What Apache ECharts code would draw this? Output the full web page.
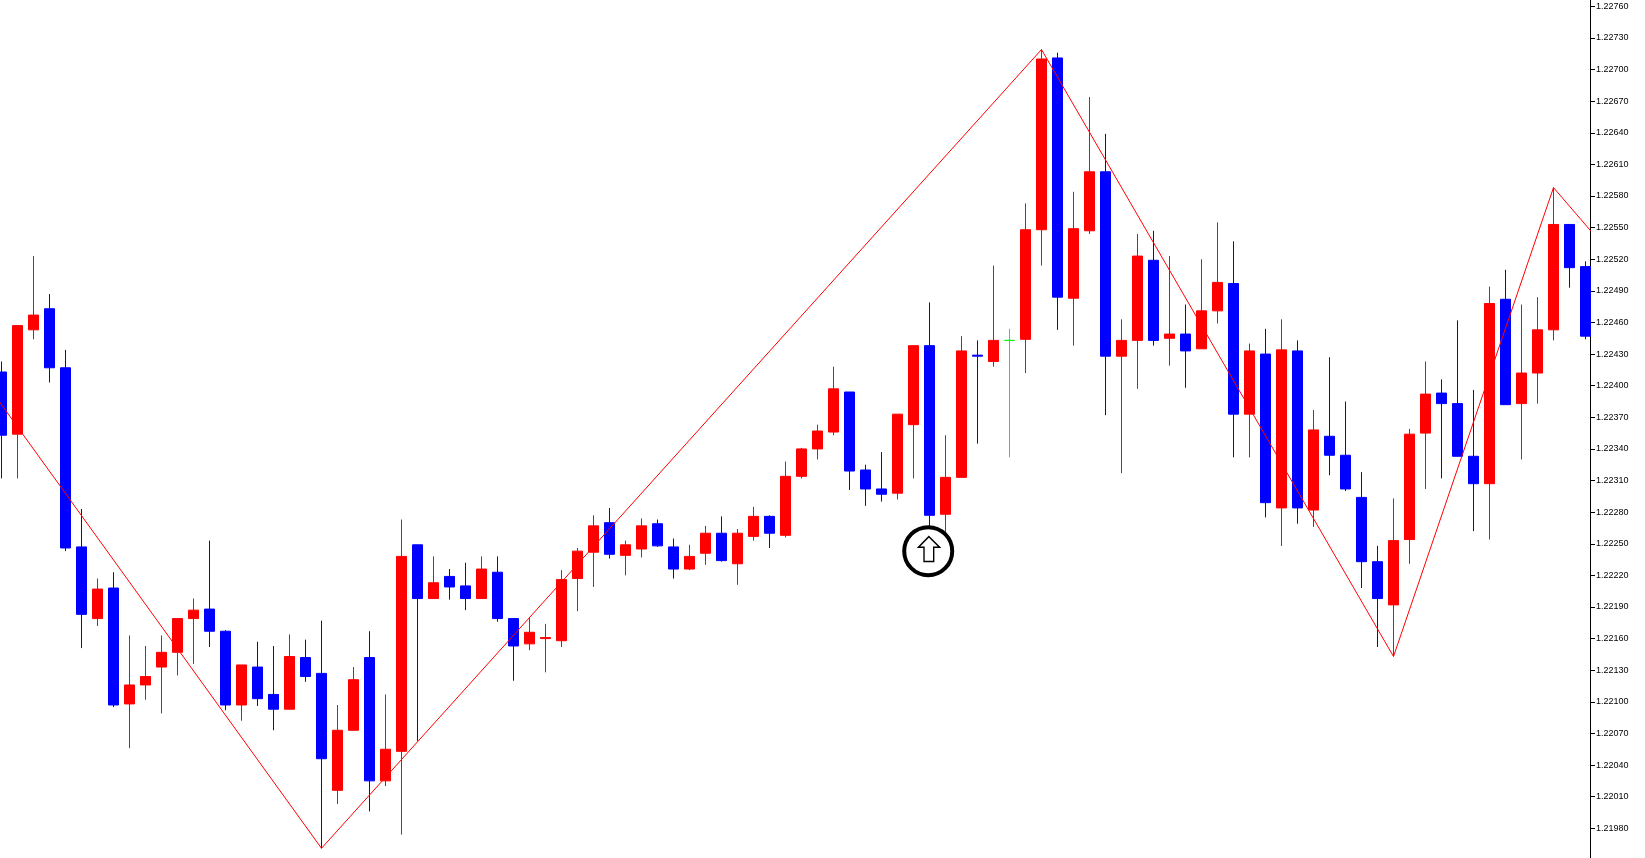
<!DOCTYPE html>
<html>
<head>
<meta charset="utf-8">
<style>html,body{margin:0;padding:0;background:#fff}#c{width:1645px;height:858px}</style>
<script src="https://cdn.jsdelivr.net/npm/echarts@6/dist/echarts.min.js"></script>
</head>
<body>
<div id="c"></div>
<script>
const opens = [122413,122354,122453,122473,122417,122247,122179,122208,122098,122116,122133,122147,122179,122188,122167,122097,122133,122107,122093,122142,122127,122016,122073,122142,122025,122053,122249,122198,122219,122210,122198,122223,122179,122155,122160,122158,122217,122242,122270,122239,122245,122269,122247,122226,122241,122260,122231,122257,122276,122258,122314,122340,122356,122394,122320,122302,122298,122363,122438,122278,122313,122429,122423,122443,122444,122548,122711,122483,122547,122603,122428,122443,122519,122445,122449,122435,122471,122497,122373,122430,122284,122433,122282,122352,122334,122294,122233,122192,122254,122355,122393,122383,122333,122307,122482,122383,122412,122453,122553,122513];
const closes = [122353,122457,122467,122417,122246,122183,122207,122097,122116,122124,122147,122179,122187,122167,122097,122135,122103,122093,122143,122124,122046,122073,122121,122025,122055,122238,122198,122213,122209,122198,122226,122179,122153,122166,122161,122216,122243,122267,122240,122249,122267,122248,122226,122238,122260,122234,122260,122276,122260,122314,122340,122357,122397,122319,122302,122297,122373,122438,122277,122313,122433,122428,122443,122443,122548,122710,122484,122549,122603,122428,122443,122523,122443,122449,122433,122471,122498,122373,122433,122289,122434,122284,122358,122334,122302,122233,122198,122253,122354,122392,122383,122333,122307,122478,122382,122412,122453,122553,122512,122447];
const lows = [122312,122312,122444,122403,122243,122151,122172,122095,122056,122102,122089,122125,122136,122152,122092,122082,122096,122073,122093,122119,121961,122003,122073,121996,122020,121974,122063,122198,122197,122187,122198,122176,122120,122149,122128,122152,122186,122209,122236,122220,122237,122247,122217,122225,122230,122233,122211,122253,122246,122256,122312,122330,122353,122301,122286,122290,122292,122312,122263,122260,122313,122345,122418,122332,122412,122514,122453,122438,122544,122372,122317,122397,122438,122419,122398,122435,122459,122332,122332,122275,122248,122269,122266,122315,122300,122208,122152,122143,122231,122302,122312,122333,122262,122254,122382,122330,122383,122443,122493,122444];
const highs = [122423,122457,122523,122487,122434,122283,122217,122223,122163,122153,122163,122179,122198,122253,122168,122135,122157,122153,122164,122159,122177,122097,122133,122167,122107,122273,122249,122238,122226,122232,122238,122238,122179,122180,122174,122225,122246,122277,122284,122253,122274,122273,122255,122249,122267,122276,122264,122285,122277,122328,122341,122363,122418,122394,122325,122337,122373,122438,122479,122353,122447,122443,122514,122454,122573,122719,122716,122584,122674,122639,122463,122544,122547,122523,122477,122520,122555,122537,122440,122454,122463,122443,122377,122427,122385,122318,122248,122293,122359,122423,122406,122462,122396,122494,122510,122477,122484,122588,122553,122518];
const zigzagIndex = [-1,20,65,87,97,100];
const zigzagPrice = [122403,121961,122719,122143,122588,122535];
const signalIndex = [57.92];
const signalPrice = [122243];
const arrowIndex = [57.97];
const arrowPrice = [122245];
const tickLabels = ['1.22760','1.22730','1.22700','1.22670','1.22640','1.22610','1.22580','1.22550','1.22520','1.22490','1.22460','1.22430','1.22400','1.22370','1.22340','1.22310','1.22280','1.22250','1.22220','1.22190','1.22160','1.22130','1.22100','1.22070','1.22040','1.22010','1.21980'];

const px = v => v / 100000;
const candles = opens.map((o, i) => [i, px(o), px(closes[i]), px(lows[i]), px(highs[i])]);
const chart = echarts.init(document.getElementById('c'), null, {renderer: 'canvas'});
chart.setOption({
  animation: false,
  backgroundColor: '#ffffff',
  grid: {left: -6.5, right: 55, top: 0, bottom: 0, containLabel: false, outerBoundsMode: 'none'},
  xAxis: {type: 'value', min: -0.5, max: 99.28125, show: false},
  yAxis: {
    type: 'value', position: 'right', min: 1.219518, max: 1.22766,
    splitLine: {show: false},
    axisLine: {show: true, onZero: false, lineStyle: {color: '#000', width: 1}},
    axisTick: {show: true, length: 5, lineStyle: {color: '#000', width: 1}, customValues: tickLabels.map(Number)},
    axisLabel: {show: true, margin: 6, color: '#000', fontFamily: '"Liberation Sans",sans-serif', fontSize: 9,
      customValues: tickLabels.map(Number), formatter: v => v.toFixed(5)}
  },
  series: [
    {type: 'candlestick', data: candles, encode: {x: 0, y: [1, 2, 3, 4]}, barWidth: 10, z: 2,
      itemStyle: {color: '#ff0000', color0: '#0000ff', borderColor: '#ff0000', borderColor0: '#0000ff', borderColorDoji: '#00ff00', borderWidth: 1}},
    {type: 'line', data: zigzagIndex.map((x, i) => [x, px(zigzagPrice[i])]), symbol: 'none', z: 3, lineStyle: {color: '#ff0000', width: 1}},
    {type: 'scatter', data: signalIndex.map((x, i) => [x, px(signalPrice[i])]), symbol: 'circle', symbolSize: 48, z: 4,
      itemStyle: {color: '#ffffff', borderColor: '#000000', borderWidth: 4, opacity: 1}},
    {type: 'scatter', data: arrowIndex.map((x, i) => [x, px(arrowPrice[i])]), symbol: 'path://M32 0L65 32L47 32L47 75L17 75L17 32L0 32Z', symbolSize: [21, 25], z: 5,
      itemStyle: {color: '#ffffff', borderColor: '#000000', borderWidth: 1.5, opacity: 1}}
  ]
});
</script>
</body>
</html>
